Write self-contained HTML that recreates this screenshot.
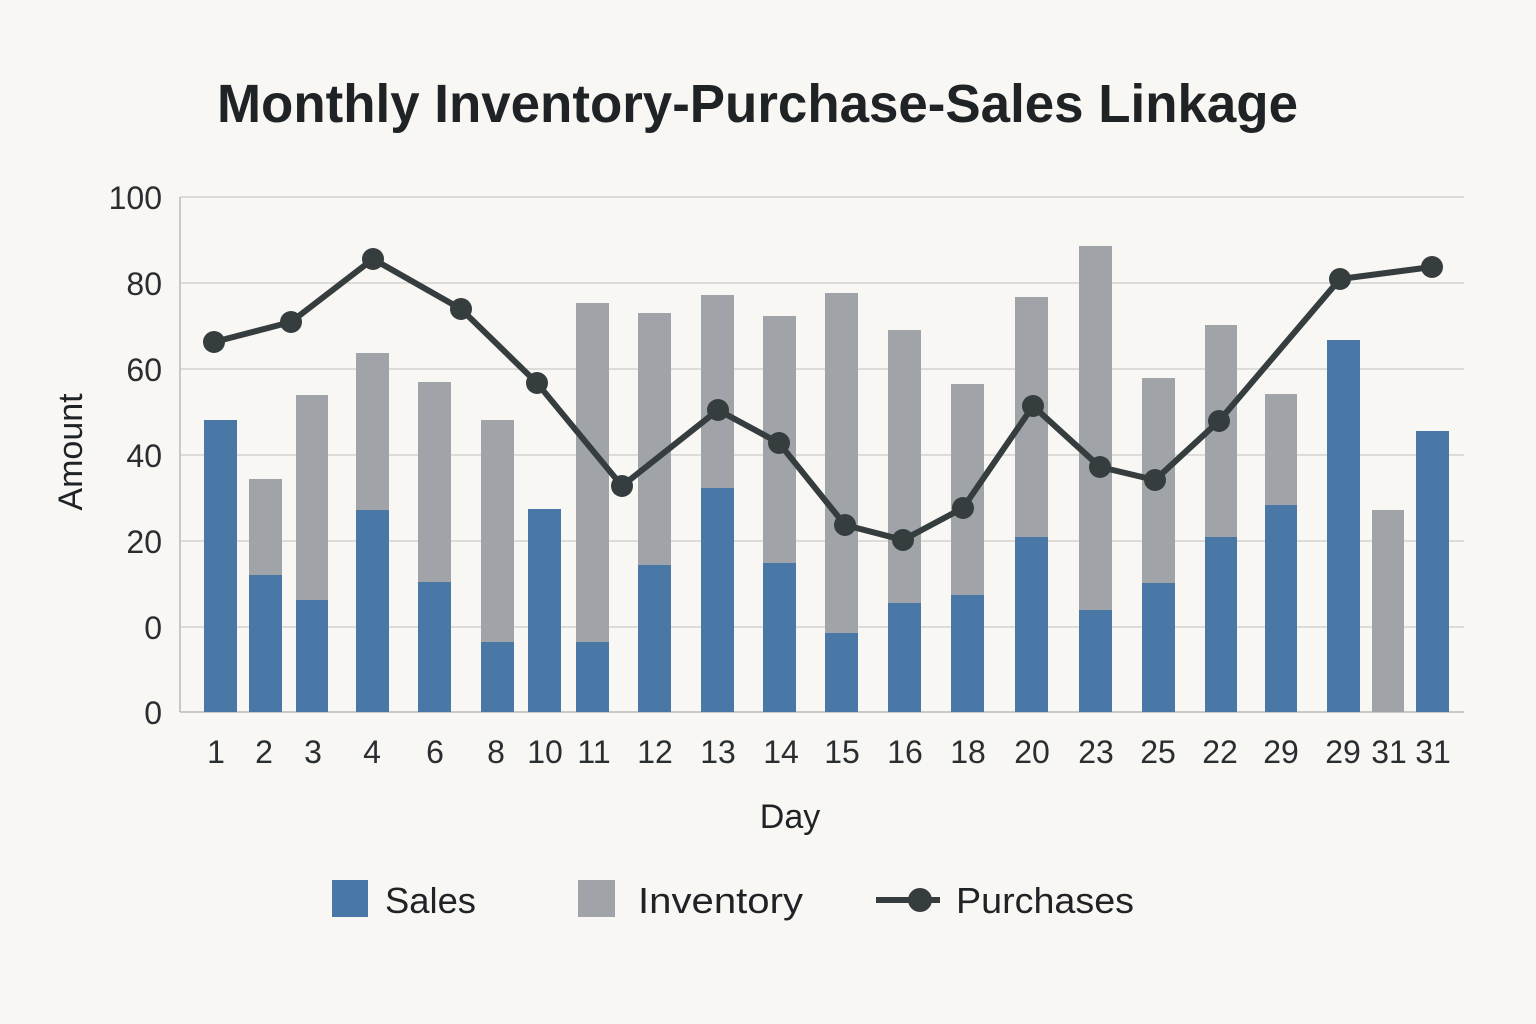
<!DOCTYPE html>
<html><head><meta charset="utf-8"><style>html,body{margin:0;padding:0;background:#f8f7f3}svg{display:block}</style></head><body>
<svg width="1536" height="1024" viewBox="0 0 1536 1024" xmlns="http://www.w3.org/2000/svg" font-family="Liberation Sans, DejaVu Sans, sans-serif">
<rect width="1536" height="1024" fill="#f8f7f3"/>
<text x="217" y="122" font-size="54" font-weight="bold" fill="#1f2326" textLength="1081" lengthAdjust="spacingAndGlyphs">Monthly Inventory-Purchase-Sales Linkage</text>
<g stroke="#d4d4d0" stroke-width="1.5">
<line x1="180" y1="197" x2="1464" y2="197"/><line x1="180" y1="283" x2="1464" y2="283"/><line x1="180" y1="369" x2="1464" y2="369"/><line x1="180" y1="455" x2="1464" y2="455"/><line x1="180" y1="541" x2="1464" y2="541"/><line x1="180" y1="627" x2="1464" y2="627"/>
</g>
<line x1="180" y1="197" x2="180" y2="712" stroke="#b8b8b4" stroke-width="1.5"/>
<line x1="180" y1="712" x2="1464" y2="712" stroke="#b8b8b4" stroke-width="1.5"/>
<g font-size="32" fill="#2a2e31" text-anchor="end">
<text x="162" y="209">100</text><text x="162" y="295">80</text><text x="162" y="381">60</text><text x="162" y="467">40</text><text x="162" y="553">20</text><text x="162" y="639">0</text><text x="162" y="724">0</text>
</g>
<text transform="translate(82,452) rotate(-90)" text-anchor="middle" font-size="34" fill="#1f2326">Amount</text>
<g fill="#a0a4a8">
<rect x="249" y="479" width="33" height="233"/><rect x="296" y="395" width="32" height="317"/><rect x="356" y="353" width="33" height="359"/><rect x="418" y="382" width="33" height="330"/><rect x="481" y="420" width="33" height="292"/><rect x="576" y="303" width="33" height="409"/><rect x="638" y="313" width="33" height="399"/><rect x="701" y="295" width="33" height="417"/><rect x="763" y="316" width="33" height="396"/><rect x="825" y="293" width="33" height="419"/><rect x="888" y="330" width="33" height="382"/><rect x="951" y="384" width="33" height="328"/><rect x="1015" y="297" width="33" height="415"/><rect x="1079" y="246" width="33" height="466"/><rect x="1142" y="378" width="33" height="334"/><rect x="1205" y="325" width="32" height="387"/><rect x="1265" y="394" width="32" height="318"/><rect x="1372" y="510" width="32" height="202"/>
</g>
<g fill="#4a78a6">
<rect x="204" y="420" width="33" height="292"/><rect x="249" y="575" width="33" height="137"/><rect x="296" y="600" width="32" height="112"/><rect x="356" y="510" width="33" height="202"/><rect x="418" y="582" width="33" height="130"/><rect x="481" y="642" width="33" height="70"/><rect x="528" y="509" width="33" height="203"/><rect x="576" y="642" width="33" height="70"/><rect x="638" y="565" width="33" height="147"/><rect x="701" y="488" width="33" height="224"/><rect x="763" y="563" width="33" height="149"/><rect x="825" y="633" width="33" height="79"/><rect x="888" y="603" width="33" height="109"/><rect x="951" y="595" width="33" height="117"/><rect x="1015" y="537" width="33" height="175"/><rect x="1079" y="610" width="33" height="102"/><rect x="1142" y="583" width="33" height="129"/><rect x="1205" y="537" width="32" height="175"/><rect x="1265" y="505" width="32" height="207"/><rect x="1327" y="340" width="33" height="372"/><rect x="1416" y="431" width="33" height="281"/>
</g>
<polyline fill="none" stroke="#363d3f" stroke-width="6" stroke-linejoin="round" points="214,342 291,322 373,259 461,309 537,383 622,486 718,410 779,443 845,525 903,540 963,508 1033,406 1100,467 1155,480 1219,421 1340,279 1432,267"/>
<g fill="#363d3f">
<circle cx="214" cy="342" r="11"/><circle cx="291" cy="322" r="11"/><circle cx="373" cy="259" r="11"/><circle cx="461" cy="309" r="11"/><circle cx="537" cy="383" r="11"/><circle cx="622" cy="486" r="11"/><circle cx="718" cy="410" r="11"/><circle cx="779" cy="443" r="11"/><circle cx="845" cy="525" r="11"/><circle cx="903" cy="540" r="11"/><circle cx="963" cy="508" r="11"/><circle cx="1033" cy="406" r="11"/><circle cx="1100" cy="467" r="11"/><circle cx="1155" cy="480" r="11"/><circle cx="1219" cy="421" r="11"/><circle cx="1340" cy="279" r="11"/><circle cx="1432" cy="267" r="11"/>
</g>
<g font-size="32" fill="#2a2e31" text-anchor="middle">
<text x="216" y="763">1</text><text x="264" y="763">2</text><text x="313" y="763">3</text><text x="372" y="763">4</text><text x="435" y="763">6</text><text x="496" y="763">8</text><text x="545" y="763">10</text><text x="594" y="763">11</text><text x="655" y="763">12</text><text x="718" y="763">13</text><text x="781" y="763">14</text><text x="842" y="763">15</text><text x="905" y="763">16</text><text x="968" y="763">18</text><text x="1032" y="763">20</text><text x="1096" y="763">23</text><text x="1158" y="763">25</text><text x="1220" y="763">22</text><text x="1281" y="763">29</text><text x="1343" y="763">29</text><text x="1389" y="763">31</text><text x="1433" y="763">31</text>
</g>
<text x="790" y="828" text-anchor="middle" font-size="34" fill="#1f2326">Day</text>
<rect x="332" y="880" width="36" height="37" fill="#4a78a6"/>
<text x="385" y="913" font-size="36" fill="#1f2326" textLength="91" lengthAdjust="spacingAndGlyphs">Sales</text>
<rect x="578" y="880" width="37" height="37" fill="#a0a4a8"/>
<text x="638" y="913" font-size="36" fill="#1f2326" textLength="165" lengthAdjust="spacingAndGlyphs">Inventory</text>
<line x1="876" y1="900" x2="940" y2="900" stroke="#363d3f" stroke-width="6"/>
<circle cx="920" cy="900" r="12" fill="#363d3f"/>
<text x="956" y="913" font-size="36" fill="#1f2326" textLength="178" lengthAdjust="spacingAndGlyphs">Purchases</text>
</svg>
</body></html>
